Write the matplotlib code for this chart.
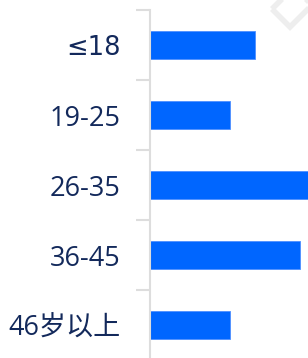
import matplotlib
matplotlib.use("Agg")
import matplotlib.pyplot as plt
from matplotlib.patches import Polygon

plt.rcParams['font.family'] = ['Open Sans', 'Noto Sans CJK SC', 'DejaVu Sans']

# data
groups = ['≤18', '19-25', '26-35', '36-45', '46岁以上']
shares = [21, 16, 33, 30, 16]

bar_color = '#0066ff'
text_color = '#13295b'
axis_color = '#dddddd'

fig = plt.figure(figsize=(3.08, 3.58), dpi=100)
W, H = 308, 358
ax = fig.add_axes([150 / W, -2 / H, 1 - 150 / W, 350 / H])

pos = list(range(len(groups)))
ax.barh(pos, shares, height=0.39, color=bar_color, edgecolor='#4d8fff', linewidth=0.6)

ax.set_ylim(len(groups) - 0.5, -0.5)
ax.set_xlim(0, 31.6)

# tick marks between the categories, labels at the centres
ax.set_yticks([p - 0.5 for p in pos] + [len(groups) - 0.5])
ax.set_yticklabels([])
ax.tick_params(axis='y', which='major', length=10, width=1.5, color=axis_color)
ax.set_yticks(pos, minor=True)
labels = ax.set_yticklabels(groups, minor=True, fontsize=19.5, color=text_color)
ax.tick_params(axis='y', which='minor', length=0, pad=21)
# the reference's ≤ is taller than the Open Sans one
labels[0].set_fontfamily(['DejaVu Sans'])
labels[0].set_fontsize(18.5)

ax.set_xticks([])
for s in ['top', 'right', 'bottom']:
    ax.spines[s].set_visible(False)
ax.spines['left'].set_color(axis_color)
ax.spines['left'].set_linewidth(1.5)

# faint watermark in the corner
pts = [(272, 9), (290, 27), (312, 5), (294, -13)]
wm = Polygon([(x / W, 1 - y / H) for x, y in pts], closed=True, fill=False,
             edgecolor='#eeeeee', linewidth=4, transform=fig.transFigure)
fig.patches.append(wm)

fig.savefig('out.png', dpi=100)
